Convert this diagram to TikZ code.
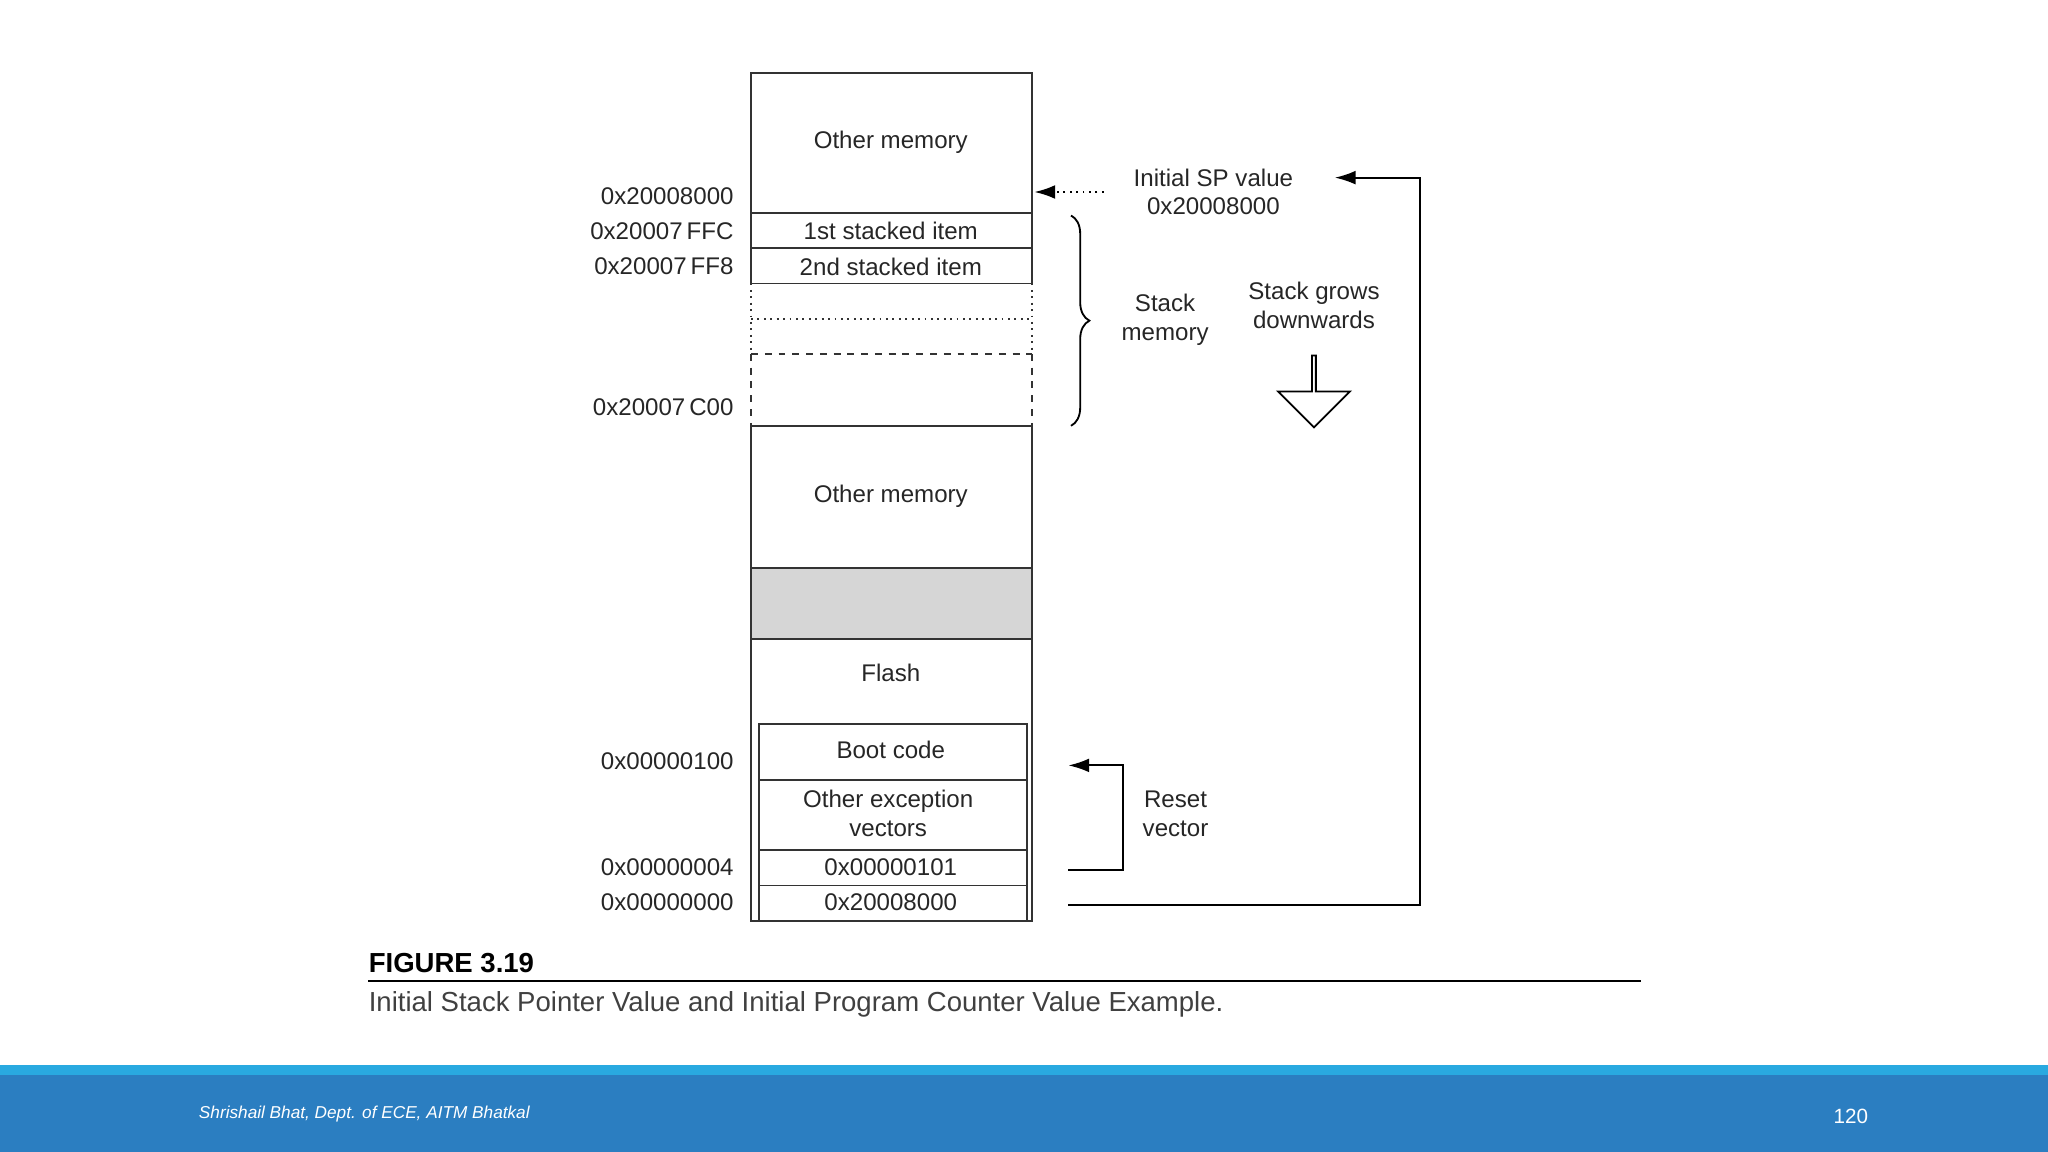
\documentclass[tikz,border=0pt]{standalone}
\usepackage{fontspec}
\setmainfont{Liberation Sans}
\usetikzlibrary{arrows.meta,decorations.pathreplacing,shapes.arrows}
\definecolor{barlight}{HTML}{29A9E0}
\definecolor{bardark}{HTML}{2B7EC1}
\definecolor{cellgray}{HTML}{D6D6D6}
\tikzset{
 lbl/.style={font=\fontsize{10.5}{12.5}\selectfont,text=black!85,align=center,inner sep=0pt},
 addr/.style={lbl,anchor=east},
 cell/.style={draw,thick,black!80},
}
\begin{document}
\begin{tikzpicture}[x=0.02cm,y=-0.02cm]
\useasboundingbox (0,0) rectangle (1568,882);
% memory column
\draw[cell] (575,56) rectangle (790,163);
\draw[cell] (575,163) rectangle (790,190);
\draw[cell] (575,190) rectangle (790,217);
\draw[thick,black!80,dotted] (575,217) -- (575,271) (790,217) -- (790,271) (575,244) -- (790,244);
\draw[thick,black!80,dashed] (575,271) -- (790,271) (575,271) -- (575,326) (790,271) -- (790,326);
\draw[cell] (575,326) rectangle (790,435);
\draw[cell,fill=cellgray] (575,435) rectangle (790,489);
\draw[cell] (575,489) rectangle (790,705);
\draw[cell] (581,554) rectangle (786,597);
\draw[cell] (581,597) rectangle (786,651);
\draw[cell] (581,651) rectangle (786,678);
\draw[cell] (581,678) rectangle (786,705);
% cell texts
\node[lbl] (om1) at (682,109) {Other memory};
\node[lbl] (st1) at (682,177) {1st stacked item};
\node[lbl] (st2) at (682,204) {2nd stacked item};
\node[lbl] (om2) at (682,380) {Other memory};
\node[lbl] (fl) at (682,515) {Flash};
\node[lbl] (bc) at (682,574) {Boot code};
\node[lbl] (oev) at (680,623) {Other exception\\vectors};
\node[lbl] (rv) at (682,664) {0x00000101};
\node[lbl] (spv) at (682,691) {0x20008000};
% addresses
\node[addr] (a1) at (562,150) {0x20008000};
\node[addr] (a2) at (562,177) {0x20007\,FFC};
\node[addr] (a3) at (562,204) {0x20007\,FF8};
\node[addr] (a4) at (562,312) {0x20007\,C00};
\node[addr] (a5) at (562,583) {0x00000100};
\node[addr] (a6) at (562,664) {0x00000004};
\node[addr] (a7) at (562,691) {0x00000000};
% right side labels
\node[lbl] (isp) at (929,147) {Initial SP value\\0x20008000};
\node[lbl] (sm) at (892,245) {Stack\\memory};
\node[lbl] (sg) at (1006,234) {Stack grows\\downwards};
\node[lbl] (rst) at (900,623) {Reset\\vector};
% connectors
\coordinate (spin) at (792,147);
\coordinate (spout) at (845,147);
\draw[thick,dotted,-{Latex[length=9pt,width=6pt]}] (spout) -- (spin);
\coordinate (spfrom) at (818,693);
\coordinate (spto) at (1022,136);
\draw[thick,-{Latex[length=9pt,width=6pt]}] (spfrom) -- (1087,693) -- (1087,136) -- (spto);
\coordinate (rvfrom) at (818,666);
\coordinate (rvto) at (818,586);
\draw[thick,-{Latex[length=9pt,width=6pt]}] (rvfrom) -- (860,666) -- (860,586) -- (rvto);
\draw[thick,decorate,decoration={brace,amplitude=8pt}] (820,165) -- (820,326);
\node[draw,thick,single arrow,shape border rotate=270,minimum height=1.1cm,minimum width=1.1cm,single arrow head extend=0.25cm,inner sep=0pt,fill=white] (down) at (1006,299) {};
% caption
\node[anchor=west,inner sep=0pt,font=\bfseries\fontsize{12}{14}\selectfont] (fig) at (282,737) {FIGURE 3.19};
\draw[thick] (282,751) -- (1256,751);
\node[anchor=west,inner sep=0pt,text=black!75,font=\fontsize{12}{14}\selectfont] (cap) at (282,769) {Initial Stack Pointer Value and Initial Program Counter Value Example.};
% footer
\fill[barlight] (0,815) rectangle (1568,823);
\fill[bardark] (0,823) rectangle (1568,882);
\node[anchor=west,inner sep=0pt,text=white,font=\itshape\fontsize{7.5}{9}\selectfont] (auth) at (152,853) {Shrishail Bhat, Dept. of ECE, AITM Bhatkal};
\node[inner sep=0pt,text=white,font=\fontsize{9}{11}\selectfont] (pg) at (1417,855) {120};
\end{tikzpicture}
\end{document}
